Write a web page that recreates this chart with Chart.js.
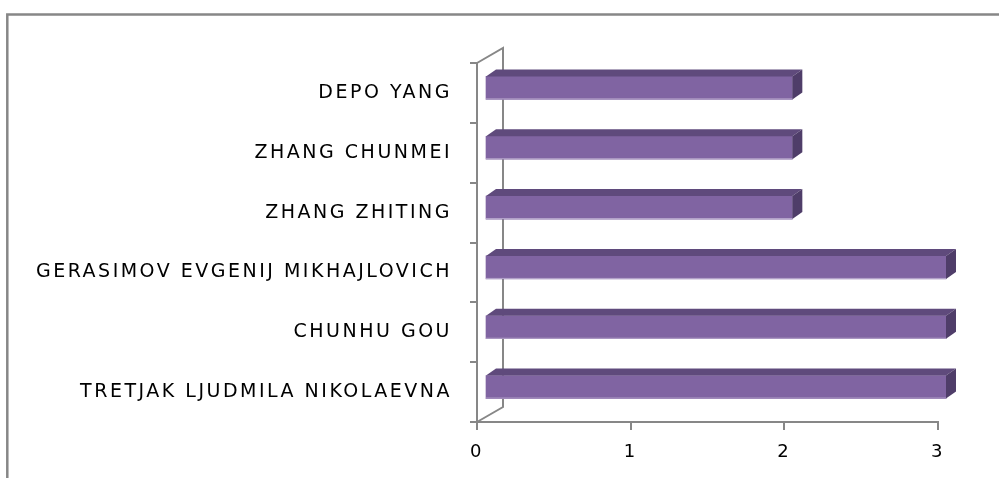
<!DOCTYPE html>
<html>
<head>
<meta charset="utf-8">
<script src="https://cdn.jsdelivr.net/npm/chart.js@4/dist/chart.umd.min.js"></script>
<style>
  html, body { margin: 0; padding: 0; background: #fff; }
  #wrap { width: 999px; height: 478px; }
</style>
</head>
<body>
<div id="wrap"><canvas id="bar-chartcanvas" width="999" height="478"></canvas></div>
<script>
// chart data
var names = [
    "DEPO YANG",
    "ZHANG CHUNMEI",
    "ZHANG ZHITING",
    "GERASIMOV EVGENIJ MIKHAJLOVICH",
    "CHUNHU GOU",
    "TRETJAK LJUDMILA NIKOLAEVNA"
];
var counts = [2, 2, 2, 3, 3, 3];
var xTicks = [0, 1, 2, 3];

var gray = "#878787";
var front = "#8064a2";
var topFace = "#5f4a7c";
var sideFace = "#4f3d69";

// bars sit a bit back from the front wall, and have their own depth
var barShift = { x: 8, y: -5 };
var barDepth = { x: 10, y: -7 };
var wallDepth = { x: 26, y: -15 };

function spacing(c) {
    c.letterSpacing = "2.5px";
}

// frame, back wall and floor edges
var framePlugin = {
    id: "frame",
    beforeUpdate: function(chart) { spacing(chart.ctx); },
    beforeDraw: function(chart) {
        var ctx = chart.ctx;
        spacing(ctx);
        ctx.save();
        ctx.strokeStyle = gray;
        ctx.lineWidth = 2.5;
        ctx.beginPath();
        ctx.moveTo(7.3, 478);
        ctx.lineTo(7.3, 14.5);
        ctx.lineTo(999, 14.5);
        ctx.stroke();
        ctx.restore();
    },
    beforeDatasetsDraw: function(chart) {
        var ctx = chart.ctx;
        var a = chart.chartArea;
        var x0 = chart.scales.x.getPixelForValue(0);
        ctx.save();
        ctx.strokeStyle = gray;
        ctx.lineWidth = 2;
        ctx.beginPath();
        ctx.moveTo(x0, a.top);
        ctx.lineTo(x0 + wallDepth.x, a.top + wallDepth.y);
        ctx.lineTo(x0 + wallDepth.x, a.bottom + wallDepth.y);
        ctx.lineTo(x0, a.bottom);
        ctx.stroke();
        ctx.restore();
    },
    beforeDatasetDraw: function(chart) {
        chart.ctx.save();
        chart.ctx.translate(barShift.x, barShift.y);
    },
    afterDatasetDraw: function(chart, args) {
        var ctx = chart.ctx;
        args.meta.data.forEach(function(bar) {
            var p = bar.getProps(["x", "y", "base", "height"], true);
            var t = p.y - p.height / 2, b = p.y + p.height / 2;
            var l = p.base, r = p.x;
            ctx.fillStyle = topFace;
            ctx.beginPath();
            ctx.moveTo(l, t);
            ctx.lineTo(l + barDepth.x, t + barDepth.y);
            ctx.lineTo(r + barDepth.x, t + barDepth.y);
            ctx.lineTo(r, t);
            ctx.closePath();
            ctx.fill();
            ctx.fillStyle = sideFace;
            ctx.beginPath();
            ctx.moveTo(r, t);
            ctx.lineTo(r + barDepth.x, t + barDepth.y);
            ctx.lineTo(r + barDepth.x, b + barDepth.y);
            ctx.lineTo(r, b);
            ctx.closePath();
            ctx.fill();
            // thin light edge along the bottom of the front face
            ctx.fillStyle = "#b7a6cc";
            ctx.fillRect(l, b - 1, r - l, 1);
        });
        ctx.restore();
    }
};

var ctx = document.getElementById("bar-chartcanvas");

var data = {
    labels: names,
    datasets: [
        {
            data: counts,
            backgroundColor: front,
            borderWidth: 0,
            barThickness: 23,
            clip: false
        }
    ]
};

var options = {
    responsive: false,
    animation: false,
    indexAxis: "y",
    layout: { padding: { left: 33, top: 63, right: 61, bottom: 0 } },
    plugins: {
        legend: { display: false },
        tooltip: { enabled: false }
    },
    scales: {
        x: {
            min: 0,
            max: 3,
            afterBuildTicks: function(scale) {
                scale.ticks = xTicks.map(function(v) { return { value: v }; });
            },
            afterFit: function(scale) { scale.height = 56; },
            grid: {
                drawOnChartArea: false,
                color: gray,
                lineWidth: 2,
                tickLength: 8
            },
            border: { color: gray, width: 2 },
            ticks: {
                color: "#000",
                padding: 12,
                font: { family: "DejaVu Sans", size: 18 }
            }
        },
        y: {
            afterFit: function(scale) { scale.width = 444; },
            grid: {
                drawOnChartArea: false,
                offset: true,
                color: gray,
                lineWidth: 2,
                tickLength: 7
            },
            border: { color: gray, width: 2 },
            ticks: {
                color: "#000",
                padding: 18,
                font: { family: "DejaVu Sans", size: 19 }
            }
        }
    }
};

var chart = new Chart(ctx, {
    type: "bar",
    data: data,
    options: options,
    plugins: [framePlugin]
});
</script>
</body>
</html>
